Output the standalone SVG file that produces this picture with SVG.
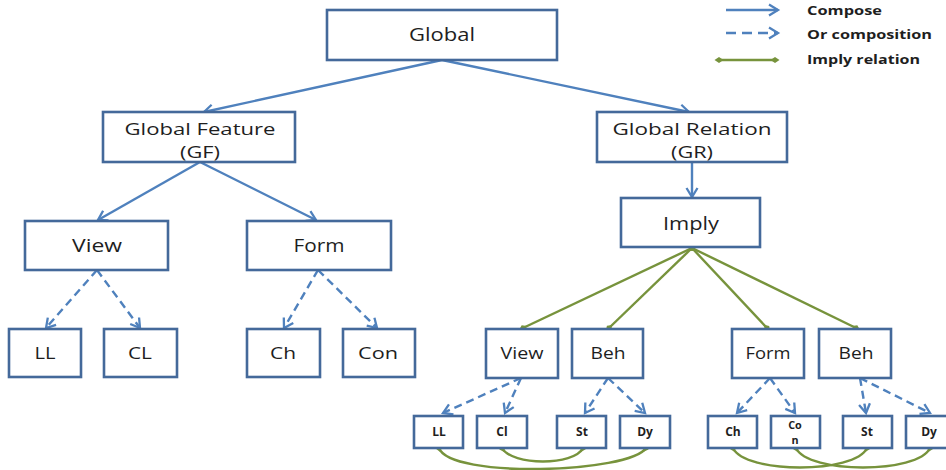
<svg xmlns="http://www.w3.org/2000/svg" width="946" height="470" viewBox="0 0 946 470">
  <defs>
    <marker id="arrow" markerUnits="userSpaceOnUse" markerWidth="14" markerHeight="14" refX="11" refY="7" orient="auto">
      <path d="M2,1.5 L11,7 L2,12.5" fill="none" stroke="#4F81BD" stroke-width="2.3" stroke-linejoin="miter"/>
    </marker>
    <marker id="dot" markerUnits="userSpaceOnUse" markerWidth="10" markerHeight="10" refX="5" refY="5" orient="auto">
      <path d="M0.5,5 L5,2 L9.5,5 L5,8 Z" fill="#77933C"/>
    </marker>
    <style>
      .box { fill: #ffffff; stroke: #44699A; stroke-width: 2.6; }
      .lbl { font-family: "Open Sans", "Liberation Sans", sans-serif; fill: #1e1e1e; text-anchor: middle; }
      .big { font-size: 18px; }
      .two { font-size: 16.8px; }
      .mid { font-size: 17px; }
      .low { font-size: 15.5px; }
      .sml { font-size: 12px; font-weight: bold; }
      .tiny { font-size: 10.8px; font-weight: bold; }
      .leg { font-family: "Open Sans", "Liberation Sans", sans-serif; font-size: 12.5px; font-weight: bold; fill: #1e1e1e; }
      .comp { fill: none; stroke: #4F81BD; stroke-width: 2.4; marker-end: url(#arrow); }
      .orc { fill: none; stroke: #4F81BD; stroke-width: 2.4; stroke-dasharray: 8 5; marker-end: url(#arrow); }
      .imp { fill: none; stroke: #77933C; stroke-width: 2.4; marker-start: url(#dot); marker-end: url(#dot); }
    </style>
  </defs>

  <!-- connectors -->
  <g id="connectors">
    <line class="comp" x1="442" y1="60" x2="204" y2="112"/>
    <line class="comp" x1="442" y1="60" x2="689" y2="112"/>
    <line class="comp" x1="692" y1="162" x2="692" y2="197"/>
    <line class="comp" x1="200" y1="162" x2="98" y2="220"/>
    <line class="comp" x1="200" y1="162" x2="316" y2="220"/>

    <line class="orc" x1="97" y1="270" x2="46" y2="328"/>
    <line class="orc" x1="97" y1="270" x2="140" y2="328"/>
    <line class="orc" x1="318" y1="270" x2="284" y2="328"/>
    <line class="orc" x1="318" y1="270" x2="377" y2="328"/>

    <line class="orc" x1="521" y1="378" x2="443" y2="413"/>
    <line class="orc" x1="521" y1="378" x2="505" y2="413"/>
    <line class="orc" x1="608" y1="378" x2="585" y2="413"/>
    <line class="orc" x1="608" y1="378" x2="645" y2="413"/>
    <line class="orc" x1="770" y1="378" x2="737" y2="413"/>
    <line class="orc" x1="770" y1="378" x2="795" y2="413"/>
    <line class="orc" x1="860" y1="378" x2="866" y2="413"/>
    <line class="orc" x1="860" y1="378" x2="930" y2="413"/>

    <line class="imp" x1="692" y1="248" x2="523" y2="328"/>
    <line class="imp" x1="692" y1="248" x2="609" y2="328"/>
    <line class="imp" x1="692" y1="248" x2="767" y2="328"/>
    <line class="imp" x1="692" y1="248" x2="856" y2="328"/>

    <path class="imp" d="M439,448 C450,479 630,473 646,448"/>
    <path class="imp" d="M502,448 C512,466 574,466 583,448"/>
    <path class="imp" d="M733,448 C745,474 855,474 867,448"/>
    <path class="imp" d="M796,448 C808,474 918,474 930,448"/>
  </g>

  <!-- top level -->
  <g id="global">
    <rect class="box" x="327" y="10" width="230" height="50"/>
    <text class="lbl big" x="442" y="41" textLength="66" lengthAdjust="spacingAndGlyphs">Global</text>
  </g>
  <g id="global-feature">
    <rect class="box" x="103" y="112" width="192" height="50"/>
    <text class="lbl two" x="200" y="135" textLength="151" lengthAdjust="spacingAndGlyphs">Global Feature</text>
    <text class="lbl two" x="200" y="158" textLength="40" lengthAdjust="spacingAndGlyphs">(GF)</text>
  </g>
  <g id="global-relation">
    <rect class="box" x="597" y="112" width="190" height="50"/>
    <text class="lbl two" x="692" y="135" textLength="159" lengthAdjust="spacingAndGlyphs">Global Relation</text>
    <text class="lbl two" x="692" y="158" textLength="42" lengthAdjust="spacingAndGlyphs">(GR)</text>
  </g>

  <!-- feature branch -->
  <g id="view">
    <rect class="box" x="25" y="221" width="143" height="49"/>
    <text class="lbl big" x="97" y="252" textLength="50" lengthAdjust="spacingAndGlyphs">View</text>
  </g>
  <g id="form">
    <rect class="box" x="247" y="221" width="144" height="49"/>
    <text class="lbl big" x="319" y="252" textLength="51" lengthAdjust="spacingAndGlyphs">Form</text>
  </g>
  <g id="ll">
    <rect class="box" x="9" y="329" width="72" height="48"/>
    <text class="lbl mid" x="45" y="359" textLength="21" lengthAdjust="spacingAndGlyphs">LL</text>
  </g>
  <g id="cl">
    <rect class="box" x="104" y="329" width="73" height="48"/>
    <text class="lbl mid" x="140" y="359" textLength="24" lengthAdjust="spacingAndGlyphs">CL</text>
  </g>
  <g id="ch">
    <rect class="box" x="247" y="329" width="73" height="48"/>
    <text class="lbl mid" x="283" y="359" textLength="26" lengthAdjust="spacingAndGlyphs">Ch</text>
  </g>
  <g id="con">
    <rect class="box" x="343" y="329" width="72" height="48"/>
    <text class="lbl mid" x="378" y="359" textLength="40" lengthAdjust="spacingAndGlyphs">Con</text>
  </g>

  <!-- relation branch -->
  <g id="imply">
    <rect class="box" x="621" y="198" width="139" height="49"/>
    <text class="lbl big" x="691" y="230" textLength="56" lengthAdjust="spacingAndGlyphs">Imply</text>
  </g>
  <g id="imply-view">
    <rect class="box" x="486" y="329" width="72" height="49"/>
    <text class="lbl low" x="522" y="359" textLength="43" lengthAdjust="spacingAndGlyphs">View</text>
  </g>
  <g id="imply-beh-1">
    <rect class="box" x="572" y="329" width="71" height="49"/>
    <text class="lbl low" x="608" y="359" textLength="35" lengthAdjust="spacingAndGlyphs">Beh</text>
  </g>
  <g id="imply-form">
    <rect class="box" x="732" y="329" width="72" height="49"/>
    <text class="lbl low" x="768" y="359" textLength="45" lengthAdjust="spacingAndGlyphs">Form</text>
  </g>
  <g id="imply-beh-2">
    <rect class="box" x="819" y="329" width="72" height="49"/>
    <text class="lbl low" x="856" y="359" textLength="35" lengthAdjust="spacingAndGlyphs">Beh</text>
  </g>

  <g id="r-ll">
    <rect class="box" x="414" y="416" width="49" height="32"/>
    <text class="lbl sml" x="439" y="436">LL</text>
  </g>
  <g id="r-cl">
    <rect class="box" x="477" y="416" width="50" height="32"/>
    <text class="lbl sml" x="502" y="436">Cl</text>
  </g>
  <g id="r-st-1">
    <rect class="box" x="557" y="416" width="49" height="32"/>
    <text class="lbl sml" x="582" y="436">St</text>
  </g>
  <g id="r-dy-1">
    <rect class="box" x="620" y="416" width="50" height="32"/>
    <text class="lbl sml" x="645" y="436">Dy</text>
  </g>
  <g id="r-ch">
    <rect class="box" x="708" y="416" width="49" height="32"/>
    <text class="lbl sml" x="733" y="436">Ch</text>
  </g>
  <g id="r-con">
    <rect class="box" x="771" y="416" width="49" height="32"/>
    <text class="lbl tiny" x="795" y="428.5">Co</text>
    <text class="lbl tiny" x="795" y="444">n</text>
  </g>
  <g id="r-st-2">
    <rect class="box" x="843" y="416" width="49" height="32"/>
    <text class="lbl sml" x="867" y="436">St</text>
  </g>
  <g id="r-dy-2">
    <rect class="box" x="906" y="416" width="50" height="32"/>
    <text class="lbl sml" x="929" y="436">Dy</text>
  </g>

  <!-- legend -->
  <g id="legend">
    <line class="comp" x1="726" y1="10" x2="778" y2="10"/>
    <text class="leg" x="807" y="15" textLength="75" lengthAdjust="spacingAndGlyphs">Compose</text>
    <line class="orc" x1="726" y1="33" x2="778" y2="33" style="stroke-dasharray: 10 6"/>
    <text class="leg" x="807" y="39" textLength="125" lengthAdjust="spacingAndGlyphs">Or composition</text>
    <line class="imp" x1="719" y1="60" x2="775" y2="60"/>
    <text class="leg" x="807" y="64" textLength="113" lengthAdjust="spacingAndGlyphs">Imply relation</text>
  </g>
</svg>
